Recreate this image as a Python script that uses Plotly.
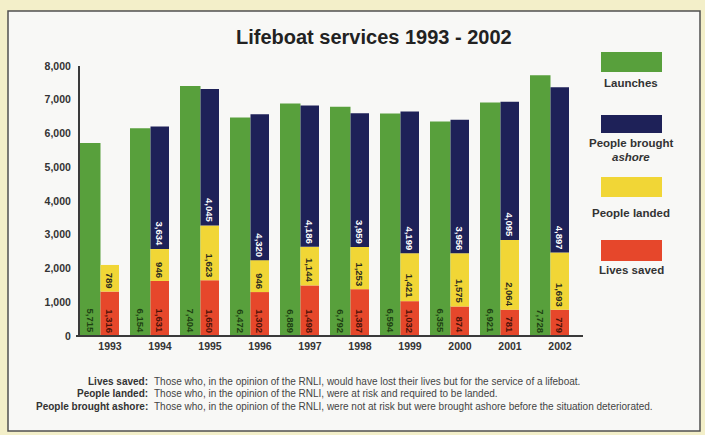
import numpy as np
import plotly.graph_objects as go

# RNLI lifeboat services, 1993-2002
years = ["1993", "1994", "1995", "1996", "1997", "1998", "1999", "2000", "2001", "2002"]
launches = [5715, 6154, 7404, 6472, 6889, 6792, 6594, 6355, 6921, 7728]
lives_saved = [1316, 1631, 1650, 1302, 1498, 1387, 1032, 874, 781, 779]
people_landed = [789, 946, 1623, 946, 1144, 1253, 1421, 1575, 2064, 1693]
brought_ashore = [0, 3634, 4045, 4320, 4186, 3959, 4199, 3956, 4095, 4897]
y_ticks = [0, 1000, 2000, 3000, 4000, 5000, 6000, 7000, 8000]

GREEN = "#58a03c"
NAVY = "#1e2158"
YELLOW = "#f1d636"
RED = "#e6472b"
FONT = "Liberation Sans"

W, H = 705, 435
L, R, T, B = 80, 580, 66, 336  # plot area in pixels


def px(x):
    return (x - L) / (R - L)


def py(y):
    return (B - y) / (B - T)


def lab(vals):
    return [f"{v:,}" if v > 0 else "" for v in vals]


red = np.array(lives_saved)
yel = np.array(people_landed)
navy = np.array(brought_ashore)

bar_common = dict(
    x=years,
    textposition="inside",
    insidetextanchor="start",
    textangle=90,
    constraintext="none",
    showlegend=False,
    hoverinfo="skip",
)
stack_w, stack_off = 0.37, -0.19
BAR_FS = 9.5

fig = go.Figure()
fig.add_trace(go.Bar(
    y=launches, base=0, width=0.41, offset=-0.6, marker_color=GREEN,
    text=lab(launches), textfont=dict(family=FONT, size=BAR_FS, color="#1d3e12", weight="bold"),
    **bar_common))
fig.add_trace(go.Bar(
    y=red, base=0, width=stack_w, offset=stack_off, marker_color=RED,
    text=lab(lives_saved), textfont=dict(family=FONT, size=BAR_FS, color="#4a1208", weight="bold"),
    **bar_common))
fig.add_trace(go.Bar(
    y=yel, base=red, width=stack_w, offset=stack_off, marker_color=YELLOW,
    text=lab(people_landed), textfont=dict(family=FONT, size=BAR_FS, color="#2a2a20", weight="bold"),
    **bar_common))
fig.add_trace(go.Bar(
    y=navy, base=red + yel, width=stack_w, offset=stack_off, marker_color=NAVY,
    text=lab(brought_ashore), textfont=dict(family=FONT, size=BAR_FS, color="#ffffff", weight="bold"),
    **bar_common))

for tr in fig.data:
    tr.marker.line.width = 0

shapes = [
    # framed panel
    dict(type="rect", xref="paper", yref="paper", layer="below",
         x0=px(8), x1=px(700), y0=py(431), y1=py(11),
         fillcolor="#f8f8f6", line=dict(color="#505050", width=1.5)),
    # baseline running slightly past both ends of the bars
    dict(type="line", xref="paper", yref="paper",
         x0=px(76), x1=px(583), y0=0, y1=0, line=dict(color="#3a3a3a", width=2)),
]
annotations = [
    dict(text="Lifeboat services 1993 - 2002", xref="paper", yref="paper",
         x=px(374), y=py(37), showarrow=False, xanchor="center", yanchor="middle",
         font=dict(family=FONT, size=20, color="#222222", weight="bold")),
]

# legend: swatch above its label
legend_items = [
    (GREEN, 52, 72, ["Launches"], [83]),
    (NAVY, 115, 133, ["People brought", "<i>ashore</i>"], [143, 157]),
    (YELLOW, 177, 197, ["People landed"], [213]),
    (RED, 240, 261, ["Lives saved"], [270]),
]
for color, top, bot, labels, ys in legend_items:
    shapes.append(dict(type="rect", xref="paper", yref="paper",
                       x0=px(601), x1=px(662), y0=py(bot), y1=py(top),
                       fillcolor=color, line=dict(width=0)))
    for t, yy in zip(labels, ys):
        annotations.append(dict(text=t, xref="paper", yref="paper", x=px(631), y=py(yy),
                                showarrow=False, xanchor="center", yanchor="middle",
                                font=dict(family=FONT, size=11.5, color="#333333", weight="bold")))

# definitions underneath the chart
notes = [
    ("Lives saved:", "Those who, in the opinion of the RNLI, would have lost their lives but for the service of a lifeboat.", 381),
    ("People landed:", "Those who, in the opinion of the RNLI, were at risk and required to be landed.", 393),
    ("People brought ashore:", "Those who, in the opinion of the RNLI, were not at risk but were brought ashore before the situation deteriorated.", 406),
]
for term, desc, yy in notes:
    annotations.append(dict(text=term, xref="paper", yref="paper", x=px(150), y=py(yy),
                            showarrow=False, xanchor="right", yanchor="middle",
                            font=dict(family=FONT, size=10, color="#333333", weight="bold")))
    annotations.append(dict(text=desc, xref="paper", yref="paper", x=px(152), y=py(yy),
                            showarrow=False, xanchor="left", yanchor="middle",
                            font=dict(family=FONT, size=10, color="#444444")))

fig.update_layout(
    width=W, height=H,
    margin=dict(l=L, r=W - R, t=T, b=H - B, pad=0),
    paper_bgcolor="#f3efc9",
    plot_bgcolor="rgba(0,0,0,0)",
    barmode="overlay",
    shapes=shapes,
    annotations=annotations,
    font=dict(family=FONT),
    xaxis=dict(
        type="category", range=[-0.6, 9.4], showgrid=False, zeroline=False,
        showline=False, ticks="", ticklabelstandoff=2,
        tickfont=dict(family=FONT, size=10.5, color="#333333", weight="bold"),
        fixedrange=True,
    ),
    yaxis=dict(
        range=[0, 8000], tickvals=y_ticks, tickformat=",", showgrid=False, zeroline=False,
        showline=True, linecolor="#3a3a3a", linewidth=2, ticks="", ticklabelstandoff=5,
        tickfont=dict(family=FONT, size=10.5, color="#333333", weight="bold"),
        fixedrange=True,
    ),
)

fig.write_html("out.html", config={"displayModeBar": False})
